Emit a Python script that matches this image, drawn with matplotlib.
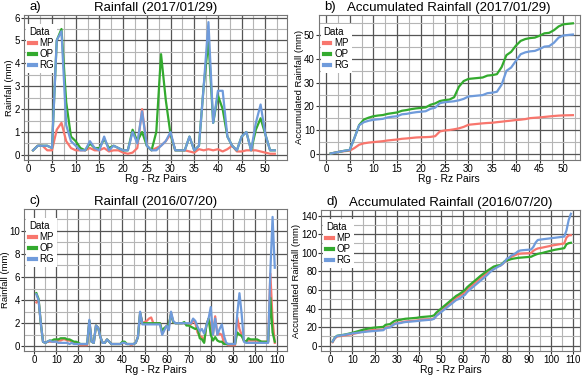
import matplotlib
matplotlib.use("Agg")
import matplotlib.pyplot as plt
import numpy as np
from matplotlib.ticker import MultipleLocator

plt.rcParams['font.family'] = ['Liberation Sans', 'DejaVu Sans']

# 2017/01/29 event, pairs 1..52
pairs_jan = np.arange(1, 53)
mp_jan = [0.2, 0.4, 0.4, 0.2, 0.2, 1.1, 1.4, 0.6, 0.3, 0.2,
          0.2, 0.2, 0.3, 0.2, 0.2, 0.3, 0.15, 0.2, 0.2, 0.1,
          0.05, 0.1, 0.3, 2.0, 0.4, 0.2, 0.3, 0.4, 0.6, 0.9,
          0.2, 0.2, 0.2, 0.15, 0.1, 0.25, 0.2, 0.25, 0.2, 0.25,
          0.15, 0.25, 0.4, 0.15, 0.15, 0.2, 0.2, 0.2, 0.15, 0.1,
          0.05, 0.05]
op_jan = [0.2, 0.4, 0.4, 0.4, 0.3, 5.0, 5.5, 2.3, 0.8, 0.6,
          0.3, 0.2, 0.5, 0.3, 0.3, 0.7, 0.3, 0.4, 0.3, 0.2,
          0.2, 1.1, 0.6, 1.0, 0.4, 0.2, 1.0, 4.4, 2.4, 0.9,
          0.2, 0.2, 0.2, 0.8, 0.2, 0.4, 3.0, 5.0, 1.4, 2.6,
          2.0, 0.8, 0.4, 0.2, 0.8, 1.0, 0.2, 1.1, 1.6, 0.9,
          0.2, 0.2]
rg_jan = [0.2, 0.4, 0.4, 0.4, 0.3, 5.0, 5.4, 1.3, 0.6, 0.4,
          0.2, 0.2, 0.6, 0.3, 0.2, 0.8, 0.2, 0.4, 0.3, 0.2,
          0.2, 1.0, 0.5, 1.9, 0.4, 0.2, 0.2, 0.4, 0.6, 1.0,
          0.2, 0.2, 0.2, 0.8, 0.2, 0.4, 3.0, 5.8, 1.4, 2.8,
          2.8, 0.8, 0.4, 0.2, 0.8, 1.0, 0.2, 1.4, 2.2, 0.9,
          0.2, 0.2]

# 2016/07/20 event, pairs 1..109
pairs_jul = np.arange(1, 110)
mp_jul = [3.8, 4.0, 2.0, 0.4, 0.3, 0.4, 0.4, 0.4, 0.4, 0.5,
          0.5, 0.5, 0.6, 0.6, 0.5, 0.5, 0.4, 0.3, 0.3, 0.2,
          0.1, 0.1, 0.1, 0.1, 2.2, 0.4, 0.3, 1.8, 1.6, 0.8,
          0.3, 0.3, 0.6, 0.4, 0.2, 0.2, 0.2, 0.2, 0.2, 0.3,
          0.3, 0.2, 0.2, 0.1, 0.2, 0.3, 0.8, 2.9, 2.0, 2.1,
          2.2, 2.4, 2.5, 2.0, 2.0, 2.0, 2.0, 1.1, 1.5, 1.8,
          1.7, 2.9, 2.1, 2.0, 2.0, 2.0, 2.0, 2.0, 1.9, 1.9,
          1.9, 2.3, 2.0, 1.2, 0.9, 0.8, 0.4, 1.8, 2.4, 1.8,
          1.0, 2.6, 1.0, 1.1, 1.0, 0.3, 0.2, 0.1, 0.1, 0.1,
          0.1, 2.5, 1.5, 1.0, 0.5, 0.4, 0.5, 0.5, 0.5, 0.5,
          0.5, 0.4, 0.4, 0.4, 0.4, 0.4, 6.3, 2.3, 0.3]
op_jul = [4.6, 4.1, 2.0, 0.4, 0.3, 0.4, 0.5, 0.5, 0.6, 0.6,
          0.6, 0.7, 0.7, 0.7, 0.6, 0.6, 0.5, 0.4, 0.4, 0.3,
          0.2, 0.2, 0.2, 0.2, 2.2, 0.4, 0.3, 1.8, 1.6, 0.8,
          0.3, 0.3, 0.6, 0.4, 0.2, 0.2, 0.2, 0.2, 0.2, 0.4,
          0.4, 0.2, 0.2, 0.2, 0.2, 0.3, 0.8, 2.9, 2.0, 2.0,
          2.0, 2.0, 2.0, 2.0, 2.0, 2.0, 2.0, 1.3, 1.6, 1.7,
          1.9, 2.8, 2.1, 2.0, 2.0, 2.0, 2.0, 2.1, 1.8, 1.8,
          1.7, 1.6, 1.5, 1.6, 0.7, 0.6, 0.3, 1.8, 2.4, 1.0,
          0.5, 0.8, 0.5, 0.4, 0.4, 0.2, 0.2, 0.2, 0.2, 0.2,
          0.2, 1.2, 1.0, 0.9, 0.5, 0.4, 0.7, 0.6, 0.6, 0.6,
          0.6, 0.5, 0.4, 0.4, 0.4, 0.4, 4.2, 1.2, 0.4]
rg_jul = [4.5, 4.0, 2.0, 0.4, 0.3, 0.4, 0.5, 0.4, 0.4, 0.4,
          0.3, 0.3, 0.3, 0.3, 0.3, 0.2, 0.3, 0.2, 0.2, 0.2,
          0.2, 0.2, 0.2, 0.2, 2.3, 0.4, 0.3, 1.8, 1.6, 0.8,
          0.3, 0.3, 0.6, 0.4, 0.2, 0.2, 0.2, 0.2, 0.2, 0.3,
          0.3, 0.2, 0.2, 0.2, 0.2, 0.3, 0.8, 3.0, 1.9, 1.9,
          1.9, 1.9, 1.9, 1.9, 1.9, 1.9, 1.9, 1.0, 1.4, 1.8,
          1.4, 3.0, 2.2, 2.0, 2.0, 2.0, 2.0, 2.0, 2.0, 2.0,
          2.0, 2.4, 2.2, 1.7, 1.3, 1.5, 1.1, 1.8, 2.4, 3.4,
          1.0, 2.4, 1.0, 1.5, 1.9, 0.9, 0.3, 0.2, 0.2, 0.2,
          0.2, 2.8, 4.6, 2.8, 0.4, 0.3, 0.3, 0.3, 0.3, 0.3,
          0.3, 0.3, 0.3, 0.3, 0.3, 0.3, 6.5, 11.2, 6.8]

colors = {'MP': '#F8766D', 'OP': '#33AA2E', 'RG': '#6F9BDB'}


def style_axes(ax, xmaj, xmin, ymaj, ymin, xlim, ylim):
    ax.set_xlim(*xlim)
    ax.set_ylim(*ylim)
    ax.xaxis.set_major_locator(MultipleLocator(xmaj))
    ax.xaxis.set_minor_locator(MultipleLocator(xmin))
    ax.yaxis.set_major_locator(MultipleLocator(ymaj))
    ax.yaxis.set_minor_locator(MultipleLocator(ymin))
    ax.grid(which='major', color='#555555', linewidth=0.9)
    ax.grid(which='minor', color='#b5b5b5', linewidth=0.8)
    ax.set_axisbelow(True)
    ax.tick_params(which='major', length=2, width=0.8, color='#333333',
                   labelsize=7, pad=1)
    ax.tick_params(which='minor', length=0)
    for s in ax.spines.values():
        s.set_color('#777777')
        s.set_linewidth(0.8)
    ax.set_xlabel('Rg - Rz Pairs', fontsize=7.5, labelpad=0)


def draw(ax, x, series, tag, title, ylabel):
    for name, vals in series:
        ax.plot(x, vals, color=colors[name], linewidth=1.6, label=name,
                solid_joinstyle='round')
    ax.set_ylabel(ylabel, fontsize=6.8, labelpad=0)
    ax.set_title(title, fontsize=9.5, pad=3)
    ax.text(0.02, 1.015, tag, transform=ax.transAxes, fontsize=9.5,
            va='bottom', ha='left')
    leg = ax.legend(title='Data', loc='upper left', fontsize=7,
                    title_fontsize=7, frameon=True, fancybox=False,
                    handlelength=0.7, handleheight=0.5, handletextpad=0.4,
                    labelspacing=0.1, borderpad=0.3, borderaxespad=0.2,
                    bbox_to_anchor=(0.0, 0.95))
    leg.get_frame().set_facecolor('white')
    leg.get_frame().set_edgecolor('none')
    leg.get_frame().set_alpha(1)
    leg.set_zorder(1.5)
    leg._legend_box.align = 'left'
    for line in leg.get_lines():
        line.set_linewidth(3)


fig = plt.figure(figsize=(5.86, 3.79), dpi=100)

ax_a = fig.add_axes([0.041, 0.578, 0.449, 0.383])
draw(ax_a, pairs_jan, [('MP', mp_jan), ('OP', op_jan), ('RG', rg_jan)],
     'a)', 'Rainfall (2017/01/29)', 'Rainfall (mm)')
style_axes(ax_a, 5, 2.5, 1, 0.5, (-0.9, 54.6), (-0.22, 6.12))

ax_b = fig.add_axes([0.544, 0.578, 0.445, 0.383])
draw(ax_b, pairs_jan, [('MP', np.cumsum(mp_jan)), ('OP', np.cumsum(op_jan)),
                       ('RG', np.cumsum(rg_jan))],
     'b)', 'Accumulated Rainfall (2017/01/29)', 'Accumulated Rainfall (mm)')
style_axes(ax_b, 5, 2.5, 10, 5, (-1.5, 53.4), (-2.5, 58.6))

ax_c = fig.add_axes([0.041, 0.074, 0.449, 0.375])
draw(ax_c, pairs_jul, [('MP', mp_jul), ('OP', op_jul), ('RG', rg_jul)],
     'c)', 'Rainfall (2016/07/20)', 'Rainfall (mm)')
style_axes(ax_c, 10, 5, 2, 1, (-4.6, 114.6), (-0.4, 11.9))
ax_c.yaxis.set_label_coords(-0.053, 0.5)

ax_d = fig.add_axes([0.548, 0.074, 0.442, 0.372])
draw(ax_d, pairs_jul, [('MP', np.cumsum(mp_jul)), ('OP', np.cumsum(op_jul)),
                       ('RG', np.cumsum(rg_jul))],
     'd)', 'Accumulated Rainfall (2016/07/20)', 'Accumulated Rainfall (mm)')
style_axes(ax_d, 10, 5, 20, 10, (-4.2, 113.2), (-5.6, 146))

fig.savefig('out.png', dpi=100)
